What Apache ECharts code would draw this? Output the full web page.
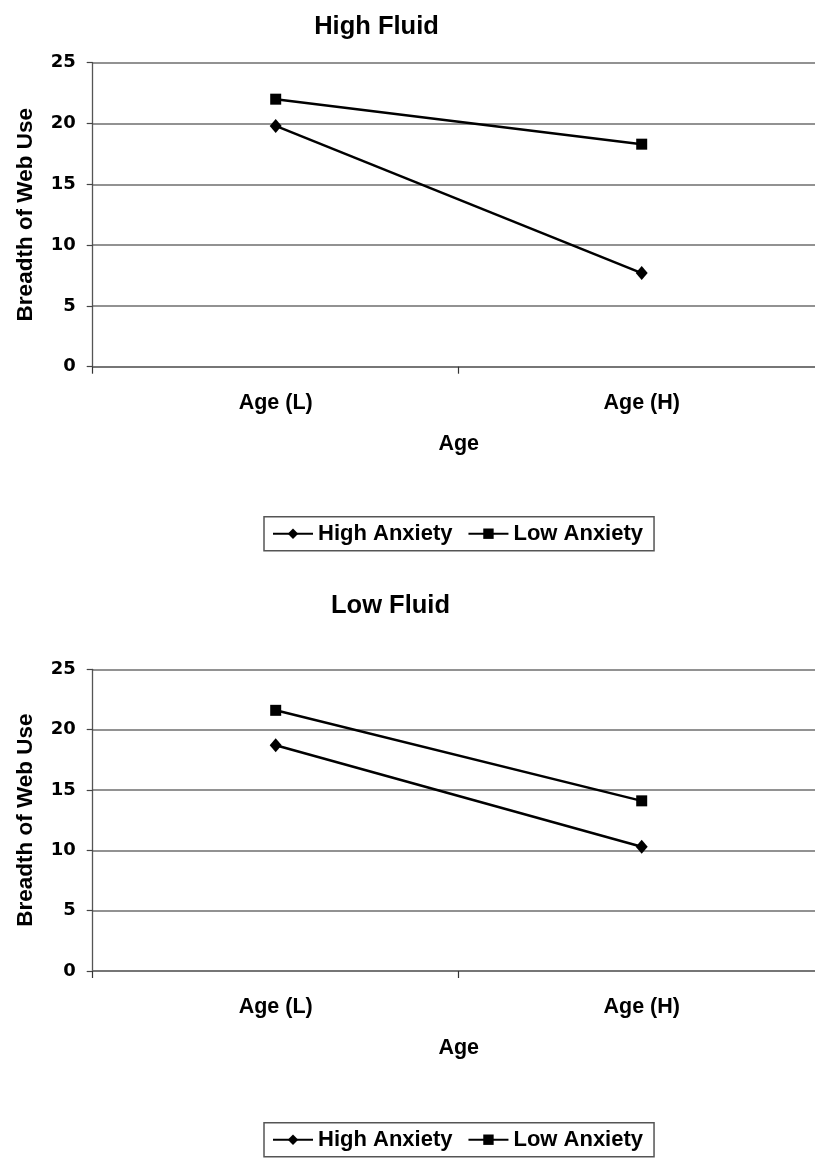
<!DOCTYPE html>
<html><head><meta charset="utf-8">
<script src="https://cdn.jsdelivr.net/npm/echarts@6/dist/echarts.min.js"></script>
<style>html,body{margin:0;padding:0;background:#fff;overflow:hidden}#c{width:815px;height:1159px}</style>
</head><body><div id="c"></div>
<script>
const categories = ["Age (L)", "Age (H)"];
const yTicks = [0, 5, 10, 15, 20, 25];
const highFluidHighAnxiety = [19.8, 7.7];
const highFluidLowAnxiety = [22.0, 18.3];
const lowFluidHighAnxiety = [18.7, 10.3];
const lowFluidLowAnxiety = [21.6, 14.1];
const seriesNames = ["High Anxiety", "Low Anxiety"];
const panelTitles = ["High Fluid", "Low Fluid"];
const xAxisName = "Age";
const yAxisName = "Breadth of Web Use";

const FONT = "Liberation Sans";
const chart = echarts.init(document.getElementById('c'));
const tops = [62.7, 669.3];
const heights = [304, 301.7];
const GRID = '#6e6e6e';
function xAxis(i){return {type:'category',gridIndex:i,data:categories,boundaryGap:true,
  name:xAxisName,nameLocation:'middle',nameGap:66,
  nameTextStyle:{fontFamily:FONT,fontWeight:'bold',fontSize:21.5,color:'#000',verticalAlign:'top'},
  axisLine:{lineStyle:{color:GRID,width:1.6}},
  axisTick:{show:true,length:7,lineStyle:{color:'#333',width:1.2}},
  axisLabel:{fontFamily:FONT,fontWeight:'bold',fontSize:21.5,color:'#000',margin:25}};}
function yAxis(i){return {type:'value',gridIndex:i,min:yTicks[0],max:yTicks[yTicks.length-1],interval:5,
  name:yAxisName,nameLocation:'middle',nameGap:55,
  nameTextStyle:{fontFamily:FONT,fontWeight:'bold',fontSize:22.5,color:'#000'},
  axisLine:{show:true,lineStyle:{color:'#555',width:1.3}},
  axisTick:{show:true,length:6,lineStyle:{color:'#444',width:1.2}},
  splitLine:{lineStyle:{color:GRID,width:1.6}},
  axisLabel:{fontFamily:'DejaVu Sans',fontWeight:'bold',fontSize:18,color:'#000',margin:17}};}
function line(name,data,i,sym,size){return {name:name,type:'line',xAxisIndex:i,yAxisIndex:i,data:data,
  symbol:sym,symbolSize:size,lineStyle:{color:'#000',width:2.5},itemStyle:{color:'#000'},
  animation:false};}
function legend(top){return {data:seriesNames,top:top,left:264,borderColor:'#555',borderWidth:1.5,
  padding:[6,11,6,8],itemGap:15,itemWidth:40,itemHeight:13,
  textStyle:{fontFamily:FONT,fontWeight:'bold',fontSize:22,color:'#000'}};}
chart.setOption({
  animation:false,
  title:[
    {text:panelTitles[0],left:371.5,top:9,textAlign:'center',textStyle:{fontFamily:FONT,fontWeight:'bold',fontSize:25.5,color:'#000'}},
    {text:panelTitles[1],left:385.5,top:588,textAlign:'center',textStyle:{fontFamily:FONT,fontWeight:'bold',fontSize:25.5,color:'#000'}}
  ],
  legend:[legend(516.7),legend(1122.7)],
  grid:[
    {left:92.7,width:732,top:tops[0],height:heights[0],outerBoundsMode:'none',containLabel:false},
    {left:92.7,width:732,top:tops[1],height:heights[1],outerBoundsMode:'none',containLabel:false}
  ],
  xAxis:[xAxis(0),xAxis(1)],
  yAxis:[yAxis(0),yAxis(1)],
  series:[
    line(seriesNames[0],highFluidHighAnxiety,0,'diamond',[12,14]),
    line(seriesNames[1],highFluidLowAnxiety,0,'rect',11),
    line(seriesNames[0],lowFluidHighAnxiety,1,'diamond',[12,14]),
    line(seriesNames[1],lowFluidLowAnxiety,1,'rect',11)
  ]
});
</script></body></html>
